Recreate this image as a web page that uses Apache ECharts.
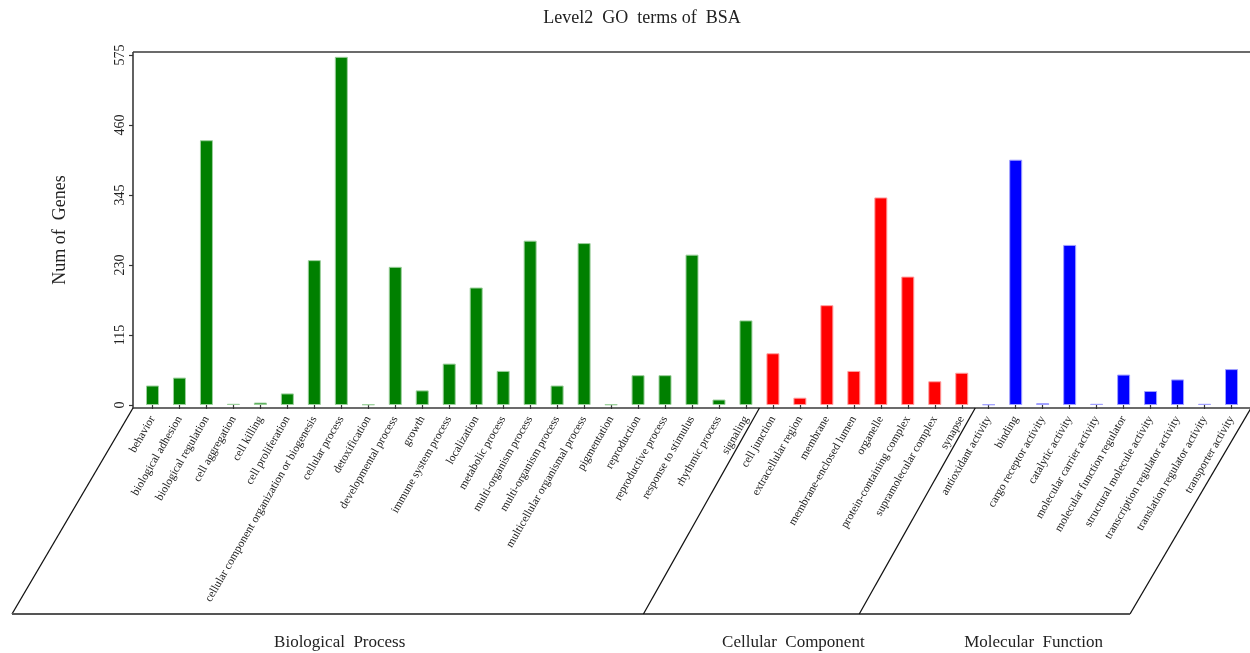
<!DOCTYPE html>
<html>
<head>
<meta charset="utf-8">
<title>Level2 GO terms of BSA</title>
<script src="https://cdn.jsdelivr.net/npm/echarts@6/dist/echarts.min.js"></script>
<style>
  html, body { margin: 0; padding: 0; background: #ffffff; }
  #chart { width: 1250px; height: 653px; }
</style>
</head>
<body>
<div id="chart"></div>
<script>
// GO level-2 term counts, grouped by ontology
const bpTerms = [
  'behavior', 'biological adhesion', 'biological regulation', 'cell aggregation',
  'cell killing', 'cell proliferation', 'cellular component organization or biogenesis',
  'cellular process', 'detoxification', 'developmental process', 'growth',
  'immune system process', 'localization', 'metabolic process', 'multi-organism process',
  'multi-organism process', 'multicellular organismal process', 'pigmentation',
  'reproduction', 'reproductive process', 'response to stimulus', 'rhythmic process',
  'signaling'
];
const bpCounts = [32, 45, 435, 2, 4, 19, 238, 572, 1, 227, 24, 68, 193, 56, 270, 32, 266, 1, 49, 49, 247, 9, 139];

const ccTerms = [
  'cell junction', 'extracellular region', 'membrane', 'membrane-enclosed lumen',
  'organelle', 'protein-containing complex', 'supramolecular complex', 'synapse'
];
const ccCounts = [85, 12, 164, 56, 341, 211, 39, 53];

const mfTerms = [
  'antioxidant activity', 'binding', 'cargo receptor activity', 'catalytic activity',
  'molecular carrier activity', 'molecular function regulator', 'structural molecule activity',
  'transcription regulator activity', 'translation regulator activity', 'transporter activity'
];
const mfCounts = [1, 403, 3, 263, 2, 50, 23, 42, 2, 59];

const groupNames = ['Biological Process', 'Cellular Component', 'Molecular Function'];
const groupColors = ['#008000', '#ff0000', '#0000ff'];
const groupEdges = ['#9ccf9c', '#ffa0a0', '#a0a0ff'];
const yTicks = [0, 115, 230, 345, 460, 575];

const FONT = '"Liberation Serif", "DejaVu Serif", serif';

const groups = [
  { terms: bpTerms, counts: bpCounts },
  { terms: ccTerms, counts: ccCounts },
  { terms: mfTerms, counts: mfCounts }
];

const categories = [];
const barData = [];
const groupRanges = [];
groups.forEach((g, gi) => {
  const start = categories.length;
  g.terms.forEach((t, i) => {
    categories.push(t);
    barData.push({
      value: g.counts[i],
      itemStyle: { color: groupColors[gi], borderColor: groupEdges[gi], borderWidth: 1 }
    });
  });
  groupRanges.push([start, categories.length - 1]);
});

const chart = echarts.init(document.getElementById('chart'), null, { renderer: 'canvas' });

chart.setOption({
  backgroundColor: '#ffffff',
  animation: false,
  title: {
    text: 'Level2  GO  terms of  BSA',
    left: 637,
    textAlign: 'center',
    top: 4,
    textStyle: { fontFamily: FONT, fontSize: 18, fontWeight: 'normal', color: '#222' }
  },
  grid: { left: 139, right: 5, top: 55, bottom: 248, containLabel: false },
  xAxis: {
    type: 'category',
    data: categories,
    offset: 3,
    axisLine: { show: false },
    axisTick: { show: true, alignWithLabel: true, length: 4, lineStyle: { color: '#333', width: 1.2 } },
    axisLabel: {
      interval: 0,
      rotate: 60,
      margin: 9,
      fontFamily: FONT,
      fontSize: 11.5,
      color: '#222'
    },
    splitLine: { show: false }
  },
  yAxis: {
    type: 'value',
    min: yTicks[0],
    max: yTicks[yTicks.length - 1],
    interval: yTicks[1] - yTicks[0],
    offset: 6,
    name: 'Num of  Genes',
    nameLocation: 'middle',
    nameGap: 64,
    nameTextStyle: { fontFamily: FONT, fontSize: 18, color: '#222' },
    axisLine: { show: false },
    axisTick: { show: true, length: 4, lineStyle: { color: '#333', width: 1.2 } },
    axisLabel: { rotate: 90, margin: 6, fontFamily: FONT, fontSize: 14, color: '#222' },
    splitLine: { show: false }
  },
  series: [{
    type: 'bar',
    data: barData,
    barWidth: 13
  }]
});

// Frame, slanted ontology panels and group captions, placed from the axis scales
function drawFrame() {
  const cx = i => chart.convertToPixel({ xAxisIndex: 0 }, i);
  const step = cx(1) - cx(0);
  const pad = 6;
  const L = cx(0) - step / 2 - pad;
  const R = cx(categories.length - 1) + step / 2 + pad;
  const yBase = chart.convertToPixel({ yAxisIndex: 0 }, yTicks[0]) + 3;
  const yTop = chart.convertToPixel({ yAxisIndex: 0 }, yTicks[yTicks.length - 1]) - 3;
  const depth = 206;
  const slant = 121;
  const yBottom = yBase + depth;

  const axisStyle = { stroke: '#3a3a3a', lineWidth: 1.6 };
  const slantStyle = { stroke: '#111', lineWidth: 1.3 };
  const elements = [];
  const line = (x1, y1, x2, y2, style) => elements.push({
    type: 'line', silent: true,
    shape: { x1, y1, x2, y2 },
    style
  });

  line(L, yTop, R + 10, yTop, axisStyle);
  line(L, yTop, L, yBase, axisStyle);
  line(L, yBase, R, yBase, axisStyle);
  line(L, yBase, L - slant, yBottom, slantStyle);
  line(R, yBase, R - slant, yBottom, slantStyle);
  line(L - slant, yBottom, R - slant, yBottom, { stroke: '#555', lineWidth: 2 });

  const bottomEdges = [L - slant];
  for (let g = 0; g < groupRanges.length - 1; g++) {
    const bx = cx(groupRanges[g][1]) + step / 2;
    const divSlant = 116;
    line(bx, yBase, bx - divSlant, yBottom, slantStyle);
    bottomEdges.push(bx - divSlant);
  }
  bottomEdges.push(R - slant);

  const captionShift = [12, 42, 39];
  groupNames.forEach((name, g) => {
    const mid = (bottomEdges[g] + bottomEdges[g + 1]) / 2 + captionShift[g];
    elements.push({
      type: 'text', silent: true,
      x: mid, y: yBottom + 29,
      style: {
        text: name.replace(' ', '  '),
        fontFamily: FONT, fontSize: 17, fill: '#222',
        align: 'center', verticalAlign: 'middle'
      }
    });
  });

  chart.setOption({ graphic: { elements } });
}
drawFrame();
</script>
</body>
</html>
